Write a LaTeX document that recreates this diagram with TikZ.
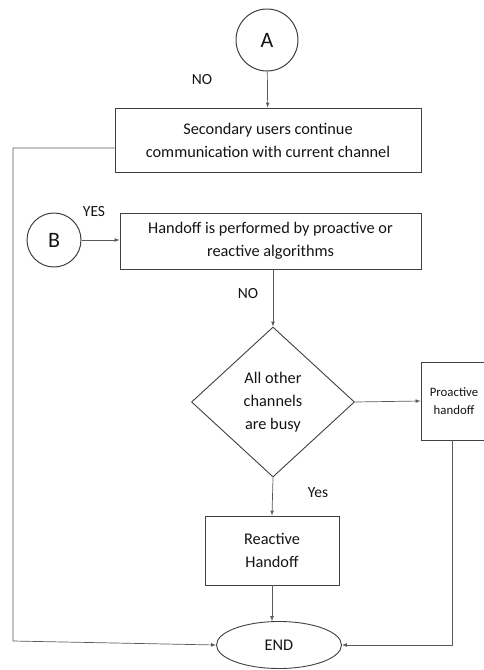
\documentclass[tikz,border=0pt]{standalone}
\usepackage{fontspec}
\setmainfont{Carlito}
\usepackage{tikz}
\usetikzlibrary{shapes.geometric}

\begin{document}
\begin{tikzpicture}[>=latex,x=1pt,y=-1pt,
    box/.style={draw=black!75,line width=0.9pt,align=center,text=black!92,font=\fontsize{16.3}{23}\selectfont},
    con/.style={draw=black!75,line width=1pt,circle,inner sep=0pt,text=black!92,font=\fontsize{22}{24}\selectfont},
    lbl/.style={text=black!92,font=\fontsize{15.5}{18}\selectfont},
    line/.style={draw=black!65,line width=0.7pt},
  ]
    \useasboundingbox (0,0) rectangle (483,670);
    \node[con,minimum size=62pt] (A) at (267,40) {A};
    \node[box,minimum width=306pt,minimum height=64pt] (secusers) at (268,140)
      {Secondary users continue\\communication with current channel};
    \node[con,minimum size=54pt] (B) at (54,240) {B};
    \node[box,minimum width=301pt,minimum height=56pt] (handoff) at (270.5,241)
      {Handoff is performed by proactive or\\reactive algorithms};
    \node[box,diamond,inner sep=0pt,minimum width=163pt,minimum height=150pt] (busy) at (273,402)
      {All other\\channels\\are busy};
    \node[box,minimum width=66pt,minimum height=78pt,font=\fontsize{12.8}{18}\selectfont] (proactive) at (454,401)
      {Proactive\\handoff};
    \node[box,minimum width=134pt,minimum height=69pt] (reactive) at (272,550.5)
      {Reactive\\Handoff};
    \node[box,ellipse,minimum width=125pt,minimum height=47pt] (stop) at (279,645) {END};
    \node[lbl] (noA) at (202,80) {NO};
    \node[lbl] (yesB) at (94,212) {YES};
    \node[lbl] (noH) at (248,294) {NO};
    \node[lbl] (yesR) at (318,493) {Yes};
    \coordinate (leftbot) at (13,641);
    \draw[line,->] (A) -- (secusers);
    \draw[line,->] ([yshift=-8pt]secusers.west) -| (leftbot) -- (stop.west);
    \draw[line,->] (B) -- (B -| handoff.west);
    \draw[line,->] (handoff.south -| busy.north) -- (busy.north);
    \draw[line,->] (busy.east) -- (proactive.west);
    \draw[line,->] (busy.south) -- (reactive.north);
    \draw[line,->] (reactive.south) -- (reactive.south |- stop.north);
    \draw[line,->] ([xshift=-2pt]proactive.south) |- (stop.east);
\end{tikzpicture}
\end{document}
